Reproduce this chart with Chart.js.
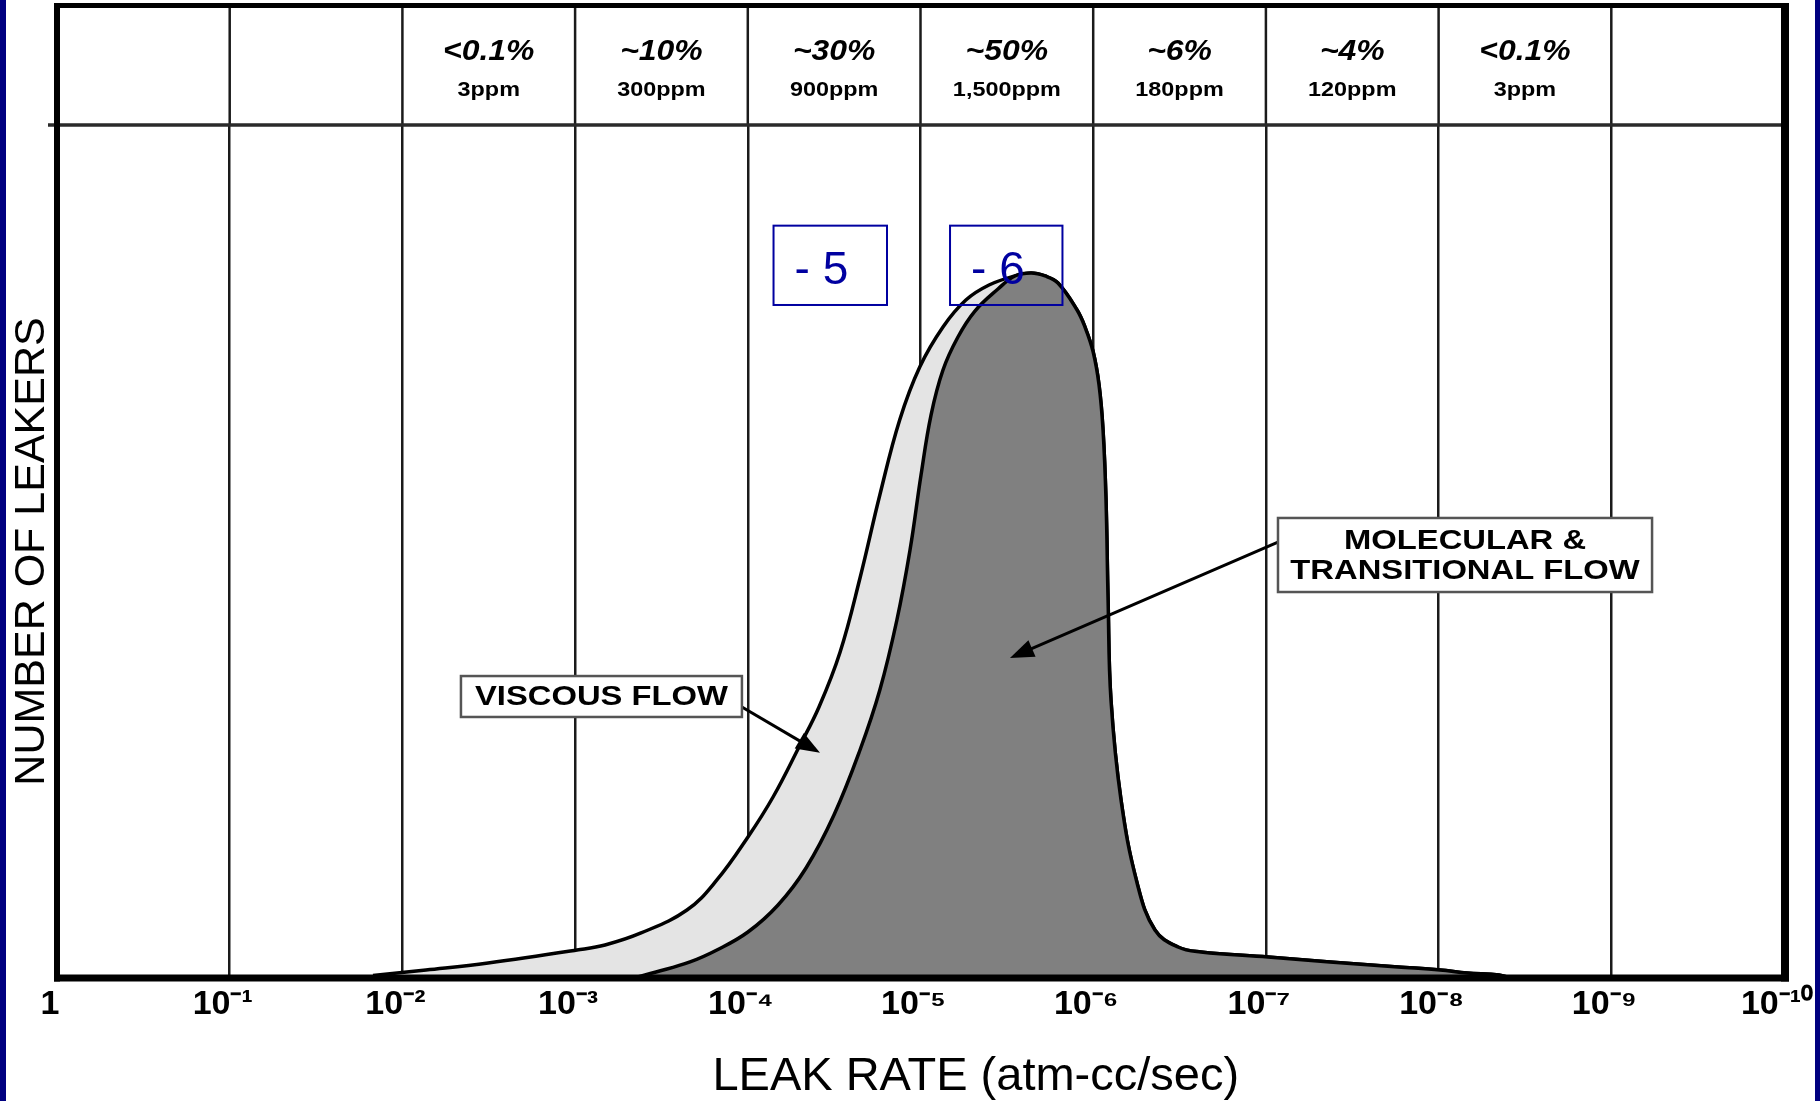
<!DOCTYPE html>
<html>
<head>
<meta charset="utf-8">
<script src="https://cdn.jsdelivr.net/npm/chart.js@4.4.0/dist/chart.umd.min.js"></script>
<style>
html,body{margin:0;padding:0;background:#fff;overflow:hidden}
canvas{display:block}
</style>
</head>
<body>
<canvas id="c" width="1820" height="1101"></canvas>
<script>
// ---- axis / header data ----
const tickExponents = [0,1,2,3,4,5,6,7,8,9,10];
const tickLabels = ['1','10⁻¹','10⁻²','10⁻³','10⁻⁴','10⁻⁵','10⁻⁶','10⁻⁷','10⁻⁸','10⁻⁹','10⁻¹⁰'];
const headerPercent = ['', '', '<0.1%', '~10%', '~30%', '~50%', '~6%', '~4%', '<0.1%', ''];
const headerPpm = ['', '', '3ppm', '300ppm', '900ppm', '1,500ppm', '180ppm', '120ppm', '3ppm', ''];

// ---- series: leak rate (atm-cc/sec) vs number of leakers (arbitrary units) ----
const viscousRate = [1.48e-2, 7.30e-3, 3.19e-3, 9.75e-4, 6.71e-4, 4.15e-4, 2.25e-4, 1.51e-4, 9.98e-5, 7.14e-5,
  5.05e-5, 3.87e-5, 2.92e-5, 2.24e-5, 1.72e-5, 1.32e-5, 1.01e-5, 7.41e-6, 5.46e-6, 4.01e-6, 2.84e-6, 2.29e-6,
  1.90e-6, 1.60e-6, 1.24e-6, 1.11e-6, 1.00e-6, 9.25e-7, 8.77e-7, 8.43e-7, 8.20e-7, 7.89e-7, 6.90e-7, 5.57e-7,
  4.39e-7, 3.23e-7, 2.38e-7, 9.73e-8, 4.26e-8, 1.72e-8, 9.82e-9, 6.85e-9, 4.47e-9, 3.86e-9];
const viscousCount = [0.29, 0.94, 1.76, 3.28, 3.87, 5.28, 7.97, 11.49, 16.53, 21.22,
  27.08, 31.77, 38.22, 46.89, 56.62, 65.42, 71.63, 76.32, 79.48, 81.24, 82.30, 82.65,
  82.30, 81.48, 78.31, 76.20, 73.39, 69.52, 64.24, 56.04, 44.31, 32.59, 20.87, 11.14,
  5.63, 3.63, 3.05, 2.46, 1.88, 1.29, 0.94, 0.59, 0.35, 0];
const molecularRate = [4.62e-4, 3.40e-4, 2.16e-4, 1.51e-4, 9.98e-5, 6.68e-5, 4.60e-5, 3.17e-5, 2.24e-5, 1.72e-5,
  1.37e-5, 1.15e-5, 9.93e-6, 8.69e-6, 7.41e-6, 6.07e-6, 4.84e-6, 3.56e-6, 2.84e-6, 2.29e-6,
  1.90e-6, 1.60e-6, 1.24e-6, 1.11e-6, 1.00e-6, 9.25e-7, 8.77e-7, 8.43e-7, 8.20e-7, 7.89e-7, 6.90e-7, 5.57e-7,
  4.39e-7, 3.23e-7, 2.38e-7, 9.73e-8, 4.26e-8, 1.72e-8, 9.82e-9, 6.85e-9, 4.47e-9, 3.86e-9];
const molecularCount = [0, 0.70, 1.88, 3.28, 5.39, 8.56, 12.90, 19.11, 26.73, 33.76,
  41.97, 50.18, 58.97, 66.00, 71.28, 75.15, 78.19, 80.77, 82.30, 82.65,
  82.30, 81.48, 78.31, 76.20, 73.39, 69.52, 64.24, 56.04, 44.31, 32.59, 20.87, 11.14,
  5.63, 3.63, 3.05, 2.46, 1.88, 1.29, 0.94, 0.59, 0.35, 0];

// ---- annotations (positions in decades of leak rate / count units) ----
const markerBoxes = [
  {text: '- 5', e0: 4.149, e1: 4.806, v0: 88.2, v1: 78.9},
  {text: '- 6', e0: 5.171, e1: 5.822, v0: 88.2, v1: 78.9}
];
const flowLabels = [
  {lines: ['VISCOUS FLOW'], e0: 2.339, e1: 3.966, v0: 35.4, v1: 30.6, from: [3.966, 31.77], to: [4.418, 26.4]},
  {lines: ['MOLECULAR &', 'TRANSITIONAL FLOW'], e0: 7.070, e1: 9.236, v0: 53.93, v1: 45.25, from: [7.070, 51.11], to: [5.518, 37.51]}
];

const FONT = '"Liberation Sans", Arial, Helvetica, sans-serif';
const GRID = '#1a1a1a';

function toPoints(xs, ys) { return xs.map((x, i) => ({x: x, y: ys[i]})); }

const decorPlugin = {
  id: 'decor',
  beforeDraw(chart) {
    const ctx = chart.ctx;
    ctx.save();
    ctx.fillStyle = '#ffffff';
    ctx.fillRect(0, 0, chart.width, chart.height);
    ctx.fillStyle = '#000080';
    ctx.fillRect(0, 0, 6, chart.height);
    ctx.fillRect(chart.width - 5, 0, 5, chart.height);
    ctx.restore();
  },
  afterDraw(chart) {
    const ctx = chart.ctx;
    const ca = chart.chartArea;
    const xs = chart.scales.x, ys = chart.scales.y;
    const px = e => xs.getPixelForValue(Math.pow(10, -e));
    const py = v => ys.getPixelForValue(v);
    const frameTop = 5.5;
    const line = (x1, y1, x2, y2) => { ctx.beginPath(); ctx.moveTo(x1, y1); ctx.lineTo(x2, y2); ctx.stroke(); };
    const stretch = (t, x, y, sx) => { ctx.save(); ctx.translate(x, y); ctx.scale(sx, 1); ctx.fillText(t, 0, 0); ctx.restore(); };
    ctx.save();
    // grid lines through the header band
    ctx.strokeStyle = GRID; ctx.lineWidth = 2.5;
    tickExponents.forEach(e => { const X = px(e); line(X, frameTop, X, ca.top); });
    // header separator
    ctx.strokeStyle = '#2a2a2a'; ctx.lineWidth = 3.5;
    line(ca.left - 9, ca.top, ca.right, ca.top);
    // header texts
    ctx.fillStyle = '#000'; ctx.textAlign = 'center'; ctx.textBaseline = 'middle';
    for (let i = 0; i < headerPercent.length; i++) {
      const cx = (px(tickExponents[i]) + px(tickExponents[i + 1])) / 2;
      if (headerPercent[i]) { ctx.font = 'italic bold 29px ' + FONT; stretch(headerPercent[i], cx, 52, 1.1); }
      if (headerPpm[i]) { ctx.font = 'bold 20px ' + FONT; stretch(headerPpm[i], cx, 90, 1.17); }
    }
    // blue marker boxes
    markerBoxes.forEach(b => {
      const l = px(b.e0), r = px(b.e1), t = py(b.v0), bt = py(b.v1);
      ctx.strokeStyle = '#0000a0'; ctx.lineWidth = 2;
      ctx.strokeRect(l, t, r - l, bt - t);
      ctx.fillStyle = '#0000a0'; ctx.font = '46px ' + FONT; ctx.textAlign = 'left'; ctx.textBaseline = 'middle';
      ctx.fillText(b.text, l + 21, (t + bt) / 2 + 5.5);
    });
    // flow labels with arrows
    flowLabels.forEach(f => {
      const l = px(f.e0), r = px(f.e1), t = py(f.v0), bt = py(f.v1);
      const x1 = px(f.from[0]), y1 = py(f.from[1]), x2 = px(f.to[0]), y2 = py(f.to[1]);
      ctx.strokeStyle = '#000'; ctx.lineWidth = 3;
      const ang = Math.atan2(y2 - y1, x2 - x1);
      const hl = 24, hw = 9;
      line(x1, y1, x2 - Math.cos(ang) * hl * 0.8, y2 - Math.sin(ang) * hl * 0.8);
      ctx.fillStyle = '#000';
      ctx.beginPath();
      ctx.moveTo(x2, y2);
      ctx.lineTo(x2 - Math.cos(ang) * hl + Math.sin(ang) * hw, y2 - Math.sin(ang) * hl - Math.cos(ang) * hw);
      ctx.lineTo(x2 - Math.cos(ang) * hl - Math.sin(ang) * hw, y2 - Math.sin(ang) * hl + Math.cos(ang) * hw);
      ctx.closePath(); ctx.fill();
      ctx.fillStyle = '#fff'; ctx.fillRect(l, t, r - l, bt - t);
      ctx.strokeStyle = '#555'; ctx.lineWidth = 2.5; ctx.strokeRect(l, t, r - l, bt - t);
      ctx.fillStyle = '#000'; ctx.font = 'bold 28px ' + FONT; ctx.textAlign = 'center'; ctx.textBaseline = 'middle';
      const cy = (t + bt) / 2, n = f.lines.length;
      f.lines.forEach((s, k) => stretch(s, (l + r) / 2, cy + (k - (n - 1) / 2) * 30 + 1, 1.17));
    });
    // frame
    ctx.strokeStyle = '#000';
    ctx.lineWidth = 5; line(ca.left - 3, frameTop, ca.right + 5, frameTop);
    ctx.lineWidth = 6; line(ca.left, frameTop - 2.5, ca.left, ca.bottom + 3.5);
    ctx.lineWidth = 8; line(ca.right + 1, frameTop - 2.5, ca.right + 1, ca.bottom + 3.5);
    ctx.lineWidth = 7; line(ca.left - 3, ca.bottom, ca.right + 5, ca.bottom);
    // x axis title
    ctx.fillStyle = '#000'; ctx.font = '47px ' + FONT; ctx.textAlign = 'center'; ctx.textBaseline = 'middle';
    ctx.fillText('LEAK RATE (atm-cc/sec)', ca.left + (ca.right - ca.left) * 0.532, ca.bottom + 99);
    ctx.restore();
  }
};

new Chart(document.getElementById('c'), {
  type: 'line',
  data: {
    datasets: [
      {
        label: 'Molecular & transitional flow',
        data: toPoints(molecularRate, molecularCount),
        borderColor: '#000', borderWidth: 3.5, backgroundColor: '#808080',
        fill: 'origin', pointRadius: 0, tension: 0.4, order: 1
      },
      {
        label: 'Viscous flow',
        data: toPoints(viscousRate, viscousCount),
        borderColor: '#000', borderWidth: 3.5, backgroundColor: '#e4e4e4',
        fill: 'origin', pointRadius: 0, tension: 0.4, order: 2
      }
    ]
  },
  options: {
    responsive: false,
    animation: false,
    devicePixelRatio: 1,
    layout: {padding: {left: 13, right: 36, top: 125, bottom: 69}},
    plugins: {legend: {display: false}, tooltip: {enabled: false}},
    scales: {
      x: {
        type: 'logarithmic',
        reverse: true,
        min: 1e-10,
        max: 1,
        z: 1,
        afterBuildTicks: scale => {
          scale.ticks = tickExponents.slice().reverse().map(e => ({value: Math.pow(10, -e)}));
        },
        grid: {color: GRID, lineWidth: 2.5, drawTicks: false},
        border: {display: false},
        ticks: {
          autoSkip: false, maxRotation: 0, minRotation: 0,
          padding: 10, labelOffset: -7, color: '#000',
          font: {family: FONT, size: 34, weight: 'bold', lineHeight: 1},
          callback: value => tickLabels[Math.round(-Math.log10(value))]
        }
      },
      y: {
        type: 'linear',
        min: 0,
        max: 100,
        grid: {display: false, drawTicks: false},
        border: {display: false},
        ticks: {display: false},
        title: {
          display: true, text: 'NUMBER OF LEAKERS', color: '#000',
          font: {family: FONT, size: 43, weight: 'normal', lineHeight: 0.9},
          padding: {top: 0, bottom: 5.3}
        }
      }
    }
  },
  plugins: [decorPlugin]
});
</script>
</body>
</html>
